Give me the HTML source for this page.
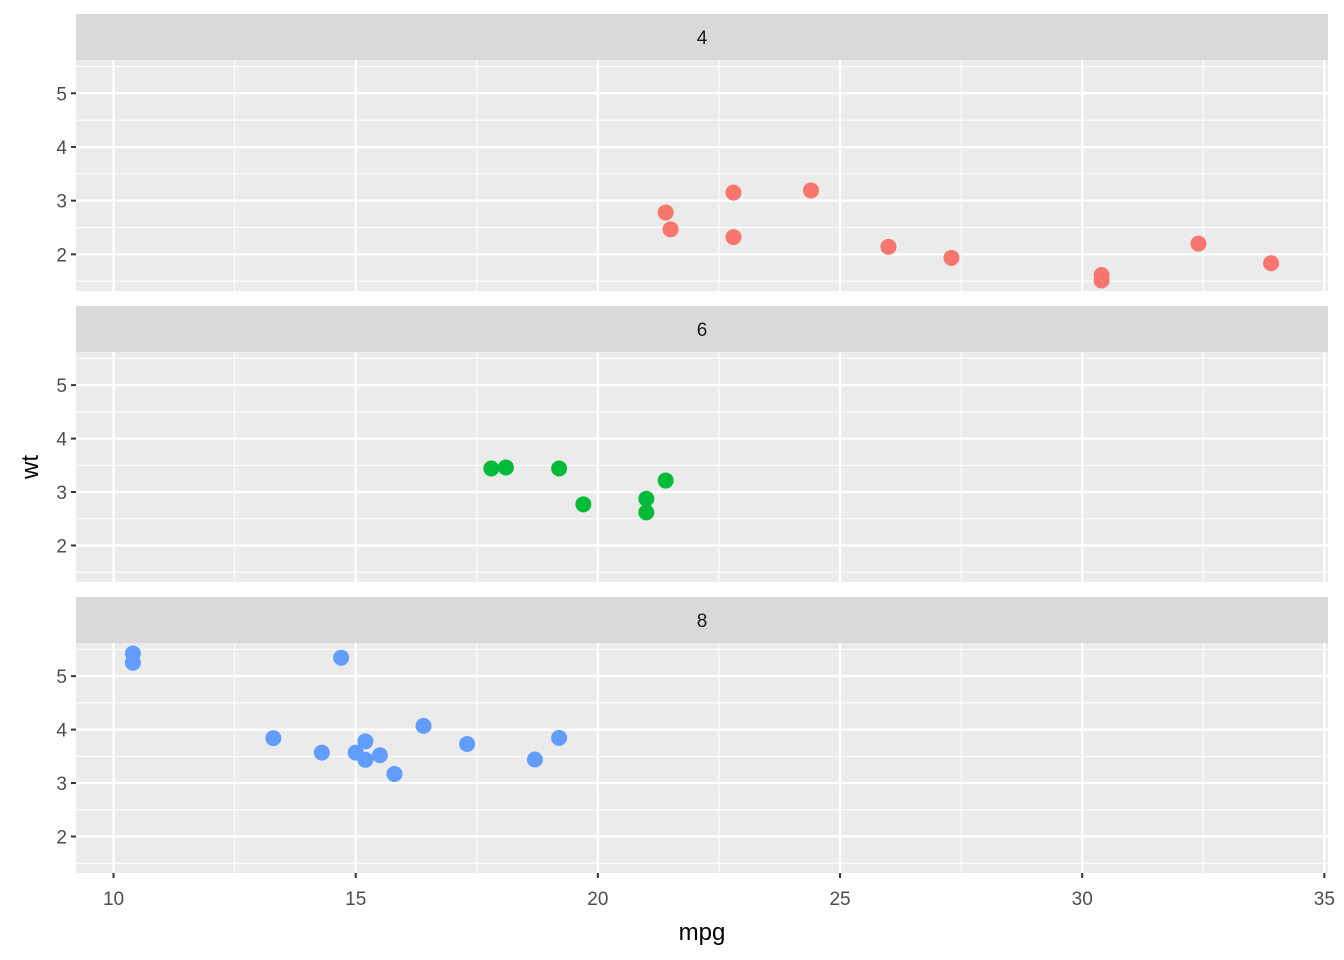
<!DOCTYPE html>
<html><head><meta charset="utf-8"><style>body{margin:0;background:#fff}svg{display:block}text{font-family:"Liberation Sans",sans-serif}</style></head>
<body>
<svg id="c" width="1344" height="960"></svg>
<script>
const facets=["4","6","8"];
const colors=["#F8766D","#00BA38","#619CFF"];
const mpg4=[22.8,24.4,22.8,32.4,30.4,33.9,21.5,27.3,26,30.4,21.4];
const wt4=[2.32,3.19,3.15,2.2,1.615,1.835,2.465,1.935,2.14,1.513,2.78];
const mpg6=[21,21,21.4,18.1,19.2,17.8,19.7];
const wt6=[2.62,2.875,3.215,3.46,3.44,3.44,2.77];
const mpg8=[18.7,14.3,16.4,17.3,15.2,10.4,10.4,14.7,15.5,15.2,13.3,19.2,15.8,15];
const wt8=[3.44,3.57,4.07,3.73,3.78,5.25,5.424,5.345,3.52,3.435,3.84,3.845,3.17,3.57];
const xTicks=[10,15,20,25,30,35];
const yTicks=[2,3,4,5];
const NS="http://www.w3.org/2000/svg";
const svg=document.getElementById('c');
function el(t,a,p){const e=document.createElementNS(NS,t);for(const k in a)e.setAttribute(k,a[k]);(p||svg).appendChild(e);return e;}
const L=76,R=1328,xmin=9.225,xmax=35.075,ymin=1.317,ymax=5.62;
const X=v=>L+(v-xmin)/(xmax-xmin)*(R-L);
const panels=[{s:14,t:60,b:291},{s:306,t:352,b:582},{s:597,t:643,b:873}];
const data=[[mpg4,wt4],[mpg6,wt6],[mpg8,wt8]];
panels.forEach((p,i)=>{
  const Y=v=>p.b-(v-ymin)/(ymax-ymin)*(p.b-p.t);
  const g=el('g',{});
  
  
  const strip=el('rect',{x:L,y:p.s,width:R-L,height:p.t-p.s,fill:'#D9D9D9'},g);
  
  
  const st=el('text',{x:(L+R)/2,y:(p.s+p.t)/2+7,'text-anchor':'middle','font-size':19,fill:'#1A1A1A'},g);st.textContent=facets[i];
  
  
  el('rect',{x:L,y:p.t,width:R-L,height:p.b-p.t,fill:'#EBEBEB'},g);
  for(let k=0;k<xTicks.length-1;k++){const m=(xTicks[k]+xTicks[k+1])/2;el('line',{x1:X(m),x2:X(m),y1:p.t,y2:p.b,stroke:'#fff','stroke-width':1},g);}
  [1.5,2.5,3.5,4.5,5.5].forEach(m=>{if(m>ymin&&m<ymax)el('line',{x1:L,x2:R,y1:Y(m),y2:Y(m),stroke:'#fff','stroke-width':1},g);});
  xTicks.forEach(v=>el('line',{x1:X(v),x2:X(v),y1:p.t,y2:p.b,stroke:'#fff','stroke-width':2.2},g));
  yTicks.forEach(v=>{
    el('line',{x1:L,x2:R,y1:Y(v),y2:Y(v),stroke:'#fff','stroke-width':2.2},g);
    el('line',{x1:L-5,x2:L,y1:Y(v),y2:Y(v),stroke:'#333','stroke-width':2},g);
    const t=el('text',{x:L-9,y:Y(v)+7,'text-anchor':'end','font-size':19,fill:'#4D4D4D'},g);t.textContent=v;
    
    
  });
  const [xs,ys]=data[i];
  xs.forEach((v,j)=>{const c=el('circle',{cx:X(v),cy:Y(ys[j]),r:8,fill:colors[i]},g);
    
    });
});
xTicks.forEach(v=>{
  el('line',{x1:X(v),x2:X(v),y1:873,y2:878,stroke:'#333','stroke-width':2});
  const t=el('text',{x:X(v),y:905,'text-anchor':'middle','font-size':19,fill:'#4D4D4D'});t.textContent=v;
  
  
});
const xt=el('text',{x:(L+R)/2,y:940,'text-anchor':'middle','font-size':24,fill:'#000'});xt.textContent='mpg';


const yt=el('text',{x:0,y:0,transform:'translate(38,467) rotate(-90)','text-anchor':'middle','font-size':24,fill:'#000'});yt.textContent='wt';


</script>
</body></html>
